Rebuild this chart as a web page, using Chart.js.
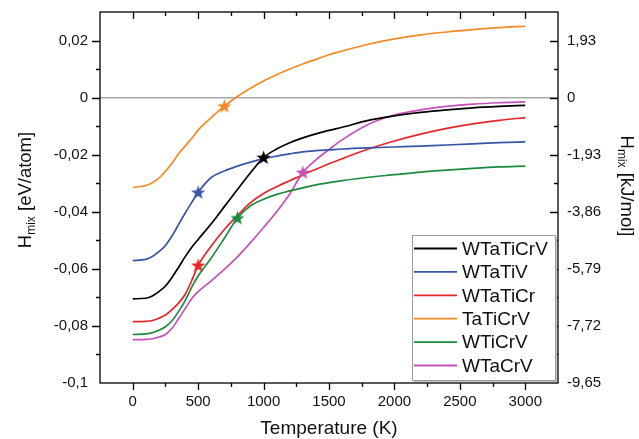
<!DOCTYPE html>
<html>
<head>
<meta charset="utf-8">
<script src="https://cdn.jsdelivr.net/npm/chart.js@4.4.1/dist/chart.umd.min.js"></script>
<style>
  html, body { margin: 0; padding: 0; background: #fff; }
</style>
</head>
<body>
<canvas id="chart" width="639" height="439"></canvas>
<script>
// temperatures (K), shared by every curve
const temps = [0, 100, 150, 200, 250, 300, 350, 400, 450, 500, 600, 700, 800, 900, 1000,
  1100, 1200, 1300, 1400, 1500, 1600, 1800, 2000, 2200, 2400, 2600, 2800, 3000];

// H_mix in eV/atom
const wTaTiCrV = [-0.0705, -0.0703, -0.0695, -0.0680, -0.0660, -0.0630, -0.0595, -0.0558, -0.0525, -0.0497,
  -0.0442, -0.0382, -0.0322, -0.0263, -0.0210, -0.0180, -0.0158, -0.0141, -0.0127, -0.0115,
  -0.0104, -0.0080, -0.0064, -0.0052, -0.0043, -0.0036, -0.0031, -0.0027];
const wTaTiV = [-0.0571, -0.0567, -0.0557, -0.0540, -0.0518, -0.0485, -0.0445, -0.0405, -0.0368, -0.0332,
  -0.0280, -0.0257, -0.0240, -0.0226, -0.0214, -0.0205, -0.0197, -0.0190, -0.0186, -0.0183,
  -0.0180, -0.0176, -0.0173, -0.0170, -0.0166, -0.0162, -0.0158, -0.0155];
const wTaTiCr = [-0.0785, -0.0784, -0.0781, -0.0773, -0.0762, -0.0743, -0.0720, -0.0690, -0.0642, -0.0588,
  -0.0520, -0.0462, -0.0413, -0.0368, -0.0336, -0.0312, -0.0291, -0.0270, -0.0251, -0.0232,
  -0.0214, -0.0180, -0.0152, -0.0128, -0.0108, -0.0092, -0.0080, -0.0070];
const taTiCrV = [-0.0315, -0.0308, -0.0298, -0.0282, -0.0258, -0.0230, -0.0197, -0.0170, -0.0143, -0.0114,
  -0.0070, -0.0030, 0.0004, 0.0033, 0.0058, 0.0080, 0.0100, 0.0118, 0.0134, 0.0150,
  0.0163, 0.0187, 0.0206, 0.0220, 0.0230, 0.0238, 0.0245, 0.0250];
const wTiCrV = [-0.0830, -0.0828, -0.0824, -0.0815, -0.0803, -0.0782, -0.0750, -0.0712, -0.0665, -0.0625,
  -0.0562, -0.0493, -0.0422, -0.0379, -0.0356, -0.0339, -0.0327, -0.0316, -0.0306, -0.0298,
  -0.0291, -0.0279, -0.0270, -0.0261, -0.0254, -0.0248, -0.0243, -0.0240];
const wTaCrV = [-0.0848, -0.0847, -0.0845, -0.0839, -0.0830, -0.0808, -0.0775, -0.0740, -0.0705, -0.0680,
  -0.0642, -0.0602, -0.0558, -0.0508, -0.0455, -0.0400, -0.0338, -0.0262, -0.0218, -0.0182,
  -0.0148, -0.0094, -0.0061, -0.0043, -0.0031, -0.0023, -0.0018, -0.0015];

const seriesNames = ['WTaTiCrV', 'WTaTiV', 'WTaTiCr', 'TaTiCrV', 'WTiCrV', 'WTaCrV'];
const seriesValues = [wTaTiCrV, wTaTiV, wTaTiCr, taTiCrV, wTiCrV, wTaCrV];
const seriesColors = ['#000000', '#3a54a6', '#e8262a', '#f58a24', '#1b8a3f', '#c452b6'];
// temperature of the star on each curve
const starTemps = [1000, 500, 500, 700, 800, 1300];

const xTickValues = [0, 500, 1000, 1500, 2000, 2500, 3000];
const yTickValues = [0.02, 0, -0.02, -0.04, -0.06, -0.08, -0.1];
const yTickLabels = ['0,02', '0', '-0,02', '-0,04', '-0,06', '-0,08', '-0,1'];
const kjTickLabels = ['1,93', '0', '-1,93', '-3,86', '-5,79', '-7,72', '-9,65'];

const FONT = '"Liberation Sans", Arial, Helvetica, sans-serif';

function makeStar(color) {
  const c = document.createElement('canvas');
  c.width = 17; c.height = 17;
  const g = c.getContext('2d');
  g.beginPath();
  for (let i = 0; i < 10; i++) {
    const r = i % 2 === 0 ? 7.5 : 3.1;
    const a = -Math.PI / 2 + i * Math.PI / 5;
    const px = 8.5 + r * Math.cos(a), py = 9 + r * Math.sin(a);
    if (i === 0) g.moveTo(px, py); else g.lineTo(px, py);
  }
  g.closePath();
  g.fillStyle = color;
  g.fill();
  return c;
}

const datasets = [];
seriesNames.forEach((name, i) => {
  datasets.push({
    label: name,
    data: temps.map((t, j) => ({ x: t, y: seriesValues[i][j] })),
    borderColor: seriesColors[i],
    borderWidth: 1.7,
    pointRadius: 0,
    cubicInterpolationMode: 'monotone',
    fill: false
  });
});
seriesNames.forEach((name, i) => {
  const j = temps.indexOf(starTemps[i]);
  datasets.push({
    label: name + ' star',
    isStar: true,
    data: [{ x: starTemps[i], y: seriesValues[i][j] }],
    showLine: false,
    pointStyle: makeStar(seriesColors[i]),
    pointRadius: 8,
    order: -1
  });
});

// no extra room for half-labels at the ends of the axes
function noPad(s) {
  s.paddingTop = 0; s.paddingBottom = 0; s.paddingLeft = 0; s.paddingRight = 0;
}

// frame, inner/outer tick marks, axis titles and the boxed legend
const decor = {
  id: 'decor',
  afterDraw(chart) {
    const ctx = chart.ctx;
    const ca = chart.chartArea;
    const xs = chart.scales.x, ys = chart.scales.y;
    ctx.save();
    ctx.strokeStyle = '#000';
    ctx.lineWidth = 1.3;
    ctx.strokeRect(ca.left, ca.top, ca.right - ca.left, ca.bottom - ca.top);

    ctx.beginPath();
    for (let t = 0; t <= 3000; t += 250) {
      const px = Math.round(xs.getPixelForValue(t)) + 0.5;
      const len = t % 500 === 0 ? 7 : 4;
      ctx.moveTo(px, ca.bottom); ctx.lineTo(px, ca.bottom + len);
      ctx.moveTo(px, ca.top); ctx.lineTo(px, ca.top + len);
    }
    for (let k = -9; k <= 2; k++) {
      const py = Math.round(ys.getPixelForValue(k / 100)) + 0.5;
      const len = k % 2 === 0 ? 8 : 4;
      ctx.moveTo(ca.left, py); ctx.lineTo(ca.left - len, py);
      ctx.moveTo(ca.right, py); ctx.lineTo(ca.right - len, py);
    }
    ctx.stroke();

    // axis titles
    ctx.fillStyle = '#111';
    ctx.textAlign = 'center';
    ctx.textBaseline = 'alphabetic';
    ctx.font = '19px ' + FONT;
    ctx.fillText('Temperature (K)', (ca.left + ca.right) / 2, 434);

    function subTitle(x, y, angle, rest) {
      ctx.save();
      ctx.translate(x, y);
      ctx.rotate(angle);
      ctx.textAlign = 'left';
      const big = '18.5px ' + FONT, small = '12px ' + FONT;
      ctx.font = big;
      const wH = ctx.measureText('H').width;
      const wR = ctx.measureText(rest).width;
      ctx.font = small;
      const wS = ctx.measureText('mix').width;
      let cx = -(wH + wS + wR) / 2;
      ctx.font = big; ctx.fillText('H', cx, 0); cx += wH;
      ctx.font = small; ctx.fillText('mix', cx, 3.5); cx += wS;
      ctx.font = big; ctx.fillText(rest, cx, 0);
      ctx.restore();
    }
    subTitle(31, 190, -Math.PI / 2, ' [eV/atom]');
    subTitle(621, 186, Math.PI / 2, ' [kJ/mol]');

    // legend box
    const bw = 143, bh = 145;
    const bx = ca.right - bw - 3, by = ca.bottom - bh - 3;
    ctx.fillStyle = '#c4c4c4';
    ctx.fillRect(bx + 2, by + 2, bw, bh);
    ctx.fillStyle = '#fff';
    ctx.fillRect(bx, by, bw, bh);
    ctx.strokeStyle = '#9a9a9a';
    ctx.lineWidth = 1;
    ctx.strokeRect(bx + 0.5, by + 0.5, bw, bh);
    ctx.font = '19px ' + FONT;
    ctx.textAlign = 'left';
    ctx.textBaseline = 'middle';
    chart.data.datasets.filter(d => !d.isStar).forEach((d, i) => {
      const ly = by + 13.5 + i * 23.4;
      ctx.strokeStyle = d.borderColor;
      ctx.lineWidth = 1.8;
      ctx.beginPath();
      ctx.moveTo(bx + 2, ly); ctx.lineTo(bx + 45, ly);
      ctx.stroke();
      ctx.fillStyle = '#111';
      ctx.fillText(d.label, bx + 50, ly + 1);
    });
    ctx.restore();
  }
};

new Chart(document.getElementById('chart'), {
  type: 'line',
  data: { datasets: datasets },
  plugins: [decor],
  options: {
    responsive: false,
    animation: false,
    devicePixelRatio: 1,
    layout: { padding: { top: 12, left: 0, right: 0, bottom: 0 } },
    plugins: {
      legend: { display: false },
      tooltip: { enabled: false }
    },
    scales: {
      x: {
        type: 'linear',
        position: 'bottom',
        min: -250,
        max: 3250,
        afterBuildTicks: (s) => { s.ticks = xTickValues.map(v => ({ value: v })); },
        afterFit: (s) => { s.height = 56; noPad(s); },
        grid: { display: false, drawTicks: false },
        border: { display: false },
        ticks: {
          autoSkip: false,
          maxRotation: 0,
          padding: 10,
          color: '#111',
          font: { family: FONT, size: 15 },
          callback: (v) => String(v)
        }
      },
      y: {
        position: 'left',
        min: -0.1,
        max: 0.03,
        afterBuildTicks: (s) => { s.ticks = yTickValues.map(v => ({ value: v })); },
        afterFit: (s) => { s.width = 100; noPad(s); },
        grid: {
          drawTicks: false,
          color: (c) => (c.tick && Math.abs(c.tick.value) < 1e-9 ? '#a8a8a8' : 'rgba(0,0,0,0)'),
          lineWidth: 1.6
        },
        border: { display: false },
        ticks: {
          padding: 12,
          color: '#111',
          font: { family: FONT, size: 15 },
          callback: (v, i) => yTickLabels[i]
        }
      },
      y2: {
        position: 'right',
        min: -0.1,
        max: 0.03,
        afterBuildTicks: (s) => { s.ticks = yTickValues.map(v => ({ value: v })); },
        afterFit: (s) => { s.width = 81; noPad(s); },
        grid: { display: false, drawTicks: false },
        border: { display: false },
        ticks: {
          padding: 9,
          color: '#111',
          font: { family: FONT, size: 15 },
          callback: (v, i) => kjTickLabels[i]
        }
      }
    }
  }
});
</script>
</body>
</html>
